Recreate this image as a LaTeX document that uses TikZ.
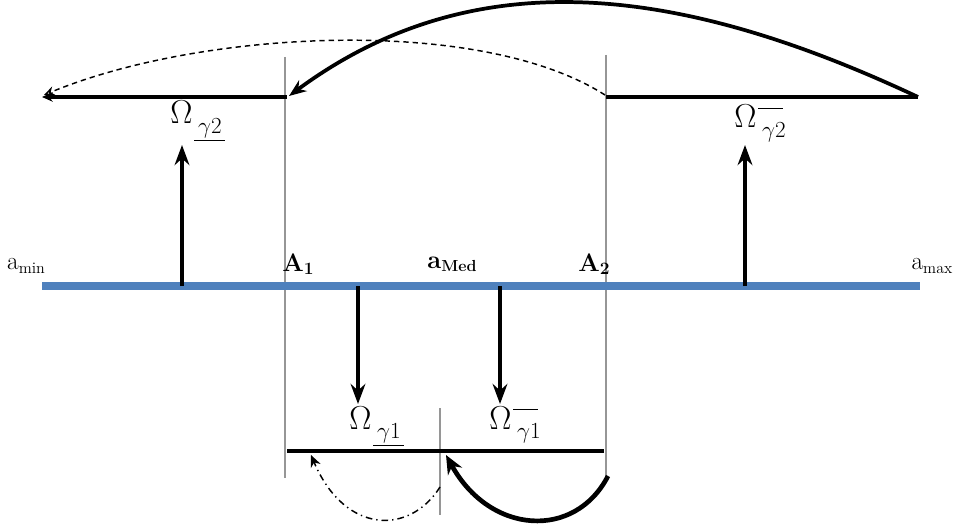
\documentclass[tikz,border=0pt]{standalone}
\usepackage{amsmath}
\usetikzlibrary{arrows.meta}
\definecolor{axisblue}{RGB}{79,129,189}
\definecolor{guidegray}{RGB}{150,150,150}
\newcommand{\omunder}[1]{$\Omega\mkern1mu\raisebox{-0.3em}{$\scriptstyle\underline{\,#1\,}$}$}
\newcommand{\ombar}[1]{$\Omega\mkern1mu\rlap{\rule[0.62em]{0.8em}{0.6pt}}\raisebox{-0.32em}{$\scriptstyle\,#1$}$}
\begin{document}
\begin{tikzpicture}[x=0.75pt,y=-0.75pt,
  thickline/.style={line width=2.8pt,black},
  guide/.style={line width=1.5pt,guidegray},
  uparrow/.style={line width=2.8pt,-{Stealth[length=15pt,width=11pt]}},
  lab/.style={inner sep=0pt,font=\fontsize{19}{22}\selectfont},
  omlab/.style={inner sep=0pt,anchor=base west,font=\fontsize{23}{26}\selectfont}]
\useasboundingbox (0,0) rectangle (953,531);
% coordinates
\coordinate (axL) at (42,286);
\coordinate (axR) at (920,286);
\coordinate (g1t) at (285,57);
\coordinate (g1b) at (285,478);
\coordinate (g2t) at (606,55);
\coordinate (g2b) at (606,476);
\coordinate (tl1) at (287,97);
\coordinate (tl0) at (42,97);
\coordinate (tr0) at (606,97);
\coordinate (tr1) at (918,97);
\coordinate (bl0) at (287,451);
\coordinate (bl1) at (604,451);
\coordinate (mvt) at (440,408);
\coordinate (mvb) at (440,515);
\coordinate (u1b) at (182,286);
\coordinate (u1t) at (182,145);
\coordinate (u2b) at (745,286);
\coordinate (u2t) at (745,145);
\coordinate (d1t) at (358,286);
\coordinate (d1b) at (358,404);
\coordinate (d2t) at (500,286);
\coordinate (d2b) at (500,404);
\coordinate (c1s) at (918,97);
\coordinate (c1e) at (289,96);
\coordinate (c2s) at (605,95);
\coordinate (c2e) at (44,95);
\coordinate (c3s) at (440,487);
\coordinate (c3e) at (311,455);
\coordinate (c4s) at (608,476);
\coordinate (c4e) at (446,455);
% guides
\draw[guide] (g1t) -- (g1b);
\draw[guide] (g2t) -- (g2b);
\draw[line width=0.9pt,guidegray] (mvt) -- (mvb);
% axis
\draw[line width=5.5pt,axisblue] (axL) -- (axR);
% horizontal black lines
\draw[thickline,-{Stealth[length=8pt,width=7pt]}] (tl1) -- (tl0);
\draw[thickline] (tr0) -- (tr1);
\draw[thickline] (bl0) -- (bl1);
% vertical arrows
\draw[uparrow] (u1b) -- (u1t);
\draw[uparrow] (u2b) -- (u2t);
\draw[uparrow] (d1t) -- (d1b);
\draw[uparrow] (d2t) -- (d2b);
% curves
\draw[line width=2.8pt,-{Stealth[length=13pt,width=10pt]}] (c1s) .. controls (690,-10) and (480,-45) .. (c1e);
\draw[line width=1.1pt,dash pattern=on 4pt off 3pt,-{Stealth[length=8pt,width=7pt,open]}] (c2s) .. controls (480,15) and (200,30) .. (c2e);
\draw[line width=1.1pt,dash pattern=on 5pt off 3pt on 1pt off 3pt,-{Stealth[length=9pt,width=8pt]}] (c3s) .. controls (410,535) and (345,535) .. (c3e);
\draw[line width=3.5pt,-{Stealth[length=14pt,width=12pt]}] (c4s) .. controls (575,540) and (490,535) .. (c4e);
% labels
\node[lab] (amin) at (26,266) {a\raisebox{-0.3ex}{\fontsize{12}{12}\selectfont min}};
\node[lab] (A1) at (298,264) {\textbf{A}\raisebox{-0.3ex}{\fontsize{13}{13}\selectfont\textbf{1}}};
\node[lab] (amed) at (452,264) {\textbf{a}\raisebox{-0.3ex}{\fontsize{12}{12}\selectfont\textbf{Med}}};
\node[lab] (A2) at (594,264) {\textbf{A}\raisebox{-0.3ex}{\fontsize{13}{13}\selectfont\textbf{2}}};
\node[lab] (amax) at (932,266) {a\raisebox{-0.3ex}{\fontsize{12}{12}\selectfont max}};
\node[omlab] (og2) at (170,124) {\omunder{\gamma 2}};
\node[omlab] (og2b) at (734,128) {\ombar{\gamma 2}};
\node[omlab] (og1) at (349,429) {\omunder{\gamma 1}};
\node[omlab] (og1b) at (489,429) {\ombar{\gamma 1}};
\end{tikzpicture}
\end{document}
